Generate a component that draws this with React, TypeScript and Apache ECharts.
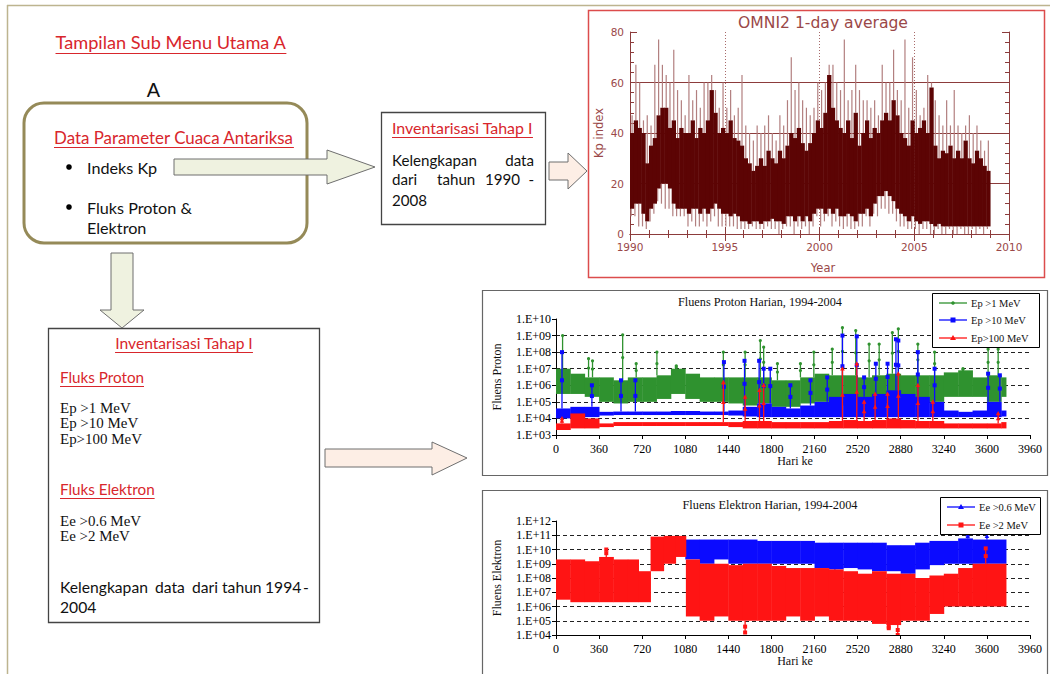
import React, { useEffect, useRef } from "react";
import * as echarts from "echarts";

// ---------------- Kp index (OMNI2 1-day average), 0.2-year bins from 1990.0 ----------------
const kpStartYear = 1990;
const kpStep = 0.2;
const kpMax = [
  47, 67, 60, 45, 47, 43, 67, 77, 67, 63, 60, 73, 57, 53, 47, 63, 53, 57, 50, 60,
  60, 63, 57, 50, 60, 50, 57, 47, 50, 63, 43, 40, 37, 43, 40, 43, 47, 40, 37, 47,
  43, 53, 70, 57, 60, 53, 50, 47, 50, 60, 57, 60, 67, 67, 60, 57, 77, 53, 57, 67,
  57, 53, 53, 50, 53, 47, 67, 60, 60, 73, 57, 53, 77, 50, 70, 57, 47, 50, 63, 60,
  53, 47, 43, 53, 43, 57, 43, 40, 43, 47, 40, 43, 37, 33, 37,
];
const kpHigh = [
  40, 45, 42, 40, 28, 35, 38, 47, 50, 50, 42, 45, 38, 42, 40, 40, 45, 38, 42, 40,
  45, 57, 48, 40, 42, 40, 45, 38, 37, 35, 30, 28, 25, 27, 30, 27, 33, 30, 28, 33,
  30, 35, 40, 38, 42, 36, 33, 36, 40, 45, 42, 48, 63, 50, 45, 42, 40, 45, 38, 48,
  35, 40, 45, 38, 42, 40, 45, 48, 45, 53, 47, 40, 38, 35, 45, 40, 42, 45, 40, 58,
  35, 30, 33, 32, 35, 30, 33, 30, 37, 30, 28, 33, 30, 27, 25,
];
const kpLow = [
  10, 12, 12, 8, 5, 10, 12, 18, 20, 20, 18, 12, 10, 10, 10, 8, 10, 10, 8, 10,
  8, 10, 12, 10, 8, 8, 7, 8, 7, 5, 5, 4, 5, 5, 4, 5, 5, 6, 5, 5,
  4, 7, 7, 5, 7, 5, 7, 5, 8, 10, 10, 8, 10, 8, 10, 7, 7, 8, 7, 5,
  8, 8, 10, 7, 12, 15, 15, 17, 15, 13, 10, 8, 7, 5, 7, 5, 4, 5, 5, 4,
  3, 4, 3, 3, 3, 3, 3, 3, 3, 3, 3, 3, 3, 3, 3,
];
const kpMin = [
  7, 7, 3, 3, 2, 5, 8, 13, 12, 10, 10, 7, 7, 7, 7, 3, 5, 3, 3, 5,
  3, 5, 7, 3, 3, 3, 3, 3, 2, 2, 2, 2, 3, 2, 2, 2, 3, 2, 2, 0,
  2, 3, 3, 0, 3, 2, 3, 0, 3, 7, 3, 5, 7, 3, 5, 3, 2, 3, 2, 2,
  3, 3, 7, 3, 8, 7, 10, 10, 8, 8, 5, 3, 3, 2, 2, 2, 0, 2, 2, 0,
  0, 2, 0, 0, 2, 0, 0, 2, 0, 0, 2, 0, 2, 0, 2,
];

// ---------------- Fluens Proton Harian (days since 1994), 120-day bins ----------------
const pBinStart = [
  0, 120, 240, 360, 480, 600, 720, 840, 960, 1080, 1200, 1320, 1440, 1560, 1680, 1800,
  1920, 2040, 2160, 2280, 2400, 2520, 2640, 2760, 2880, 3000, 3120, 3240, 3360, 3480, 3600, 3720,
];
const pEndDay = 3760;
const pGreenLow = [
  3e5, 3e5, 2e5, 1e5, 8e4, 1e5, 1e5, 1.5e5, 3e5, 1.5e5, 1e5, 1e5, 8e4, 6e4, 8e4, 5e4,
  5e4, 8e4, 1e5, 8e4, 6e4, 6e4, 8e4, 1e5, 8e4, 1e5, 1e5, 2e5, 2e5, 2e5, 1e5, 2e5,
];
const pGreenHigh = [
  1e7, 5e6, 3e6, 3e6, 2e6, 3e6, 3e6, 4e6, 1e7, 5e6, 3e6, 3e6, 3e6, 3e6, 3e6, 2e6,
  2e6, 3e6, 5e6, 4e6, 4e6, 3e6, 4e6, 5e6, 4e6, 4e6, 4e6, 6e6, 8e6, 3e6, 4e6, 3e6,
];
const pBlueLow = [
  1e4, 1e4, 1.2e4, 1.5e4, 1.6e4, 1.6e4, 1.6e4, 1.6e4, 1.6e4, 1.6e4, 1.6e4, 1.6e4, 1.5e4, 1.3e4, 1.2e4, 1.2e4,
  1.2e4, 1.2e4, 1.2e4, 1.2e4, 1.2e4, 1.2e4, 1.2e4, 1.2e4, 1.2e4, 1.2e4, 1.2e4, 1.2e4, 1.2e4, 1.2e4, 1.2e4, 1.3e4,
];
const pBlueHigh = [
  4e4, 5e4, 5e4, 2.5e4, 2.6e4, 2.6e4, 2.6e4, 2.6e4, 2.8e4, 2.8e4, 2.6e4, 2.6e4, 3e4, 5e4, 8e4, 5e4,
  4e4, 6e4, 1e5, 2e5, 3e5, 2e5, 3e5, 5e5, 3e5, 2e5, 1e5, 3e4, 2.5e4, 3e4, 1e5, 3e4,
];
const pRedLow = [
  2e3, 2.5e3, 2.5e3, 3e3, 3.5e3, 3.5e3, 3.5e3, 3.5e3, 3.5e3, 3.5e3, 3.5e3, 3.5e3, 3e3, 2.5e3, 2.5e3, 2.5e3,
  2.5e3, 2.5e3, 2.5e3, 2.5e3, 2.5e3, 2.5e3, 2.5e3, 2.5e3, 2.5e3, 2.5e3, 2.5e3, 2.5e3, 2.5e3, 2.5e3, 2.5e3, 2.5e3,
];
const pRedHigh = [
  5e3, 2e4, 1e4, 5e3, 6e3, 6e3, 6e3, 6e3, 6e3, 6e3, 6e3, 6e3, 6e3, 7e3, 7e3, 6e3,
  6e3, 6e3, 6e3, 7e3, 8e3, 7e3, 8e3, 1e4, 8e3, 7e3, 7e3, 5e3, 5e3, 5e3, 5e3, 6e3,
];
const pGreenSpikeDay = [55, 272, 305, 557, 670, 843, 1005, 1398, 1580, 1707, 1735, 1850, 2042, 2154, 2308, 2393, 2504, 2616, 2700, 2810, 2860, 3023, 3163, 3400, 3610, 3694];
const pGreenSpikePeak = [1e9, 4e7, 3e7, 1.1e9, 2e7, 1e8, 1.5e7, 1e8, 1e8, 5e8, 2e8, 2e7, 2e7, 1e8, 1.5e8, 3e9, 2e9, 3e8, 3e8, 1.5e9, 2.5e9, 3e8, 1e8, 1e7, 1.5e8, 1.5e8];
const pBlueSpikeDay = [50, 300, 543, 663, 1403, 1575, 1697, 1735, 1790, 1958, 2126, 2266, 2393, 2513, 2574, 2672, 2770, 2840, 2860, 3023, 3163, 3610, 3708];
const pBlueSpikePeak = [1e8, 1e6, 2e6, 2e6, 2.5e7, 3e7, 3e7, 1e7, 1e7, 1e6, 2e6, 3e6, 1e9, 9e8, 3e6, 2e7, 2e7, 6e8, 5e8, 1e8, 1e7, 5e6, 4e6];
const pRedSpikeDay = [50, 1398, 1580, 1700, 1735, 2393, 2513, 2574, 2666, 2770, 2860, 3024, 3148, 3694];
const pRedSpikePeak = [1e4, 1.5e6, 2e5, 5e5, 1e6, 1e7, 2e7, 1e5, 3e5, 3e5, 5e6, 1e6, 1e5, 2e4];

// ---------------- Fluens Elektron Harian ----------------
const eEndDay = 3760;
const eRedStart = [
  0, 120, 240, 360, 480, 600, 690, 790, 900, 1000, 1085, 1200, 1320, 1440, 1560, 1680,
  1800, 1920, 2040, 2160, 2280, 2400, 2520, 2640, 2760, 2880, 3000, 3120, 3240, 3360, 3480, 3600,
];
const eRedLow = [
  3e6, 2e6, 2e6, 2e6, 2e6, 2e6, 2e6, 3e8, 1e9, 3e9, 2e5, 1e5, 2e5, 1e5, 1e5, 1e5,
  1e5, 2e5, 1e5, 2e5, 1e5, 1e5, 1e5, 6e4, 5e4, 1e5, 1e5, 3e5, 1e6, 1e6, 1e6, 1e6,
];
const eRedHigh = [
  2e9, 2e9, 1.5e9, 3e9, 2e9, 2e9, 3e8, 8e10, 9e10, 9e10, 2e9, 1e9, 1e9, 8e8, 1e9, 1e9,
  7e8, 5e8, 5e8, 5e8, 4e8, 3e8, 2e8, 3e8, 2e8, 2e8, 1e8, 1.5e8, 2e8, 5e8, 1e9, 1e9,
];
const eBlueStart = [1080, 1200, 1320, 1440, 1560, 1680, 1800, 1920, 2040, 2160, 2280, 2400, 2520, 2640, 2760, 2880, 3000, 3120, 3240, 3360, 3480, 3600];
const eBlueLow = [2e9, 1e9, 2e9, 1e9, 1e9, 1e9, 1e9, 1e9, 1e9, 5e8, 4e8, 5e8, 4e8, 3e8, 3e8, 2e8, 4e8, 8e8, 1e9, 1e9, 1e9, 1e9];
const eBlueHigh = [5e10, 5e10, 5e10, 5e10, 5e10, 4e10, 4e10, 4e10, 4e10, 3e10, 3e10, 3e10, 3e10, 3e10, 2e10, 2e10, 3e10, 4e10, 4e10, 6e10, 5e10, 5e10];
const eRedSpikeDay = [420, 1580, 2780, 2855, 3590];
const eRedSpikePeak = [1e10, 1.5e4, 3e4, 1e4, 1.2e10];
const eBlueSpikeDay = [2330, 2960, 3440, 3600];
const eBlueSpikePeak = [2e8, 7e7, 1.1e11, 1.5e11];

const protonLegend = ["Ep >1 MeV", "Ep >10 MeV", "Ep>100 MeV"];
const electronLegend = ["Ee >0.6 MeV", "Ee >2 MeV"];

// ---------------- styles ----------------
const KP_AXIS = "#8c3b3b";
const KP_LABEL = "#9a4848";
const KP_DARK = "#5c0404";
const KP_LIGHT = "#b27f7f";
const GREEN = "#2f922f";
const BLUE = "#0b0bff";
const RED = "#ff1414";
const TXT_RED = "#d8262c";
const FF = "Lato";
const SERIF = "Liberation Serif";
const SANS = "Liberation Sans";
const WIDE = "DejaVu Sans";

let measureCtx: CanvasRenderingContext2D | null = null;
function measure(text: string, font: string) {
  if (!measureCtx) measureCtx = document.createElement("canvas").getContext("2d");
  measureCtx!.font = font;
  return measureCtx!.measureText(text).width;
}
function fit(text: string, family: string, target: number, weight = "normal") {
  return (20 * target) / measure(text, `${weight} 20px ${family}`);
}
function label(x: number, y: number, text: string, size: number, family: string, fill: string, opts: any = {}) {
  return {
    type: "text",
    x,
    y,
    z: opts.z ?? 60,
    rotation: opts.rot ?? 0,
    style: {
      text,
      fill,
      font: `${opts.weight ?? "normal"} ${size.toFixed(2)}px ${family}`,
      textAlign: opts.align ?? "left",
      textVerticalAlign: "middle",
    },
  };
}
function underlined(x: number, y: number, text: string, size: number, family: string, fill: string, align = "left", weight = "normal") {
  const w = measure(text, `${weight} ${size.toFixed(2)}px ${family}`);
  const x0 = align === "center" ? x - w / 2 : x;
  const uy = Math.round(y + size * 0.6) + 0.5;
  return [
    label(x, y, text, size, family, fill, { align, weight }),
    { type: "line", z: 60, shape: { x1: x0, y1: uy, x2: x0 + w, y2: uy }, style: { stroke: fill, lineWidth: 1 } },
  ];
}
function arrow(points: number[][], fill: string) {
  return { type: "polygon", z: 40, shape: { points }, style: { fill, stroke: "#6f6f6f", lineWidth: 1 } };
}

function bandData(starts: number[], end: number, low: number[], high: number[]) {
  return starts.map((s, i) => [s, i + 1 < starts.length ? starts[i + 1] : end, low[i], high[i]]);
}
function spikeData(days: number[], peaks: number[], starts: number[], end: number, low: number[], high: number[]) {
  return days.map((d, i) => {
    let k = starts.findIndex((s, j) => d >= s && d < (j + 1 < starts.length ? starts[j + 1] : end));
    if (k < 0) k = starts.length - 1;
    const p = peaks[i];
    const base = p >= high[k] ? high[k] : p <= low[k] ? low[k] : Math.sqrt(low[k] * high[k]);
    return [d, base, p];
  });
}

function bandRender(color: string) {
  return (params: any, api: any) => {
    const a = api.coord([api.value(0), api.value(3)]);
    const b = api.coord([api.value(1), api.value(2)]);
    return {
      type: "rect",
      shape: { x: a[0], y: a[1], width: b[0] - a[0] + 0.4, height: b[1] - a[1] },
      style: { fill: color },
    };
  };
}
function spikeRender(color: string, marker: string) {
  return (params: any, api: any) => {
    const a = api.coord([api.value(0), api.value(1)]);
    const c = api.coord([api.value(0), api.value(2)]);
    const mk = (x: number, y: number) => {
      if (marker === "square") return { type: "rect", shape: { x: x - 2, y: y - 2, width: 4, height: 4 }, style: { fill: color } };
      if (marker === "tri")
        return { type: "polygon", shape: { points: [[x, y - 2.5], [x + 2.3, y + 1.8], [x - 2.3, y + 1.8]] }, style: { fill: color } };
      return { type: "circle", shape: { cx: x, cy: y, r: 1.6 }, style: { fill: color } };
    };
    return {
      type: "group",
      children: [
        { type: "line", shape: { x1: a[0], y1: a[1], x2: c[0], y2: c[1] }, style: { stroke: color, lineWidth: 1.3 } },
        mk(c[0], c[1]),
        mk(c[0], (a[1] + c[1]) / 2),
      ],
    };
  };
}
function kpRender(params: any, api: any) {
  const yr = api.value(0);
  const xa = api.coord([yr, 0])[0];
  const xb = api.coord([yr + kpStep, 0])[0];
  const w = xb - xa;
  const yMin = api.coord([yr, api.value(1)])[1];
  const yLow = api.coord([yr, api.value(2)])[1];
  const yHigh = api.coord([yr, api.value(3)])[1];
  const yMax = api.coord([yr, api.value(4)])[1];
  return {
    type: "group",
    children: [
      { type: "line", shape: { x1: xa + w * 0.55, y1: yHigh, x2: xa + w * 0.55, y2: yMax }, style: { stroke: KP_LIGHT, lineWidth: 1.2 } },
      { type: "line", shape: { x1: xa + w * 0.3, y1: yLow, x2: xa + w * 0.3, y2: yMin }, style: { stroke: KP_LIGHT, lineWidth: 1.2 } },
      { type: "rect", shape: { x: xa, y: yHigh, width: w + 0.5, height: yLow - yHigh }, style: { fill: KP_DARK } },
    ],
  };
}

const logLabel = (v: number) => {
  const e = Math.round(Math.log10(v));
  return "1.E+" + (e < 10 ? "0" : "") + e;
};

function buildOption() {
  const kpData = kpMax.map((m, i) => [kpStartYear + i * kpStep, kpMin[i], kpLow[i], kpHigh[i], m]);

  const kpAxisCommon = {
    axisLine: { show: true, lineStyle: { color: KP_AXIS, width: 1 } },
    axisTick: { show: true, inside: true, length: 7, lineStyle: { color: KP_AXIS } },
    minorTick: { show: true, splitNumber: 5, length: 4, lineStyle: { color: KP_AXIS } },
  };
  const pAxisX = (gridIndex: number) => ({
    gridIndex,
    type: "value",
    min: 0,
    max: 3960,
    interval: 360,
    axisLine: { show: true, lineStyle: { color: "#000", width: 1 } },
    axisTick: { show: true, length: 4, lineStyle: { color: "#000" } },
    axisLabel: { color: "#000", fontFamily: SERIF, fontSize: 12, margin: 8, formatter: (v: number) => String(v) },
    splitLine: { show: false },
  });
  const pAxisY = (gridIndex: number, min: number, max: number, split: number) => ({
    gridIndex,
    type: "log",
    logBase: 10,
    min,
    max,
    splitNumber: split,
    axisLine: { show: true, lineStyle: { color: "#000", width: 1 } },
    axisTick: { show: true, length: 4, lineStyle: { color: "#000" } },
    axisLabel: { color: "#000", fontFamily: SERIF, fontSize: 12, margin: 5, formatter: logLabel },
    splitLine: { show: true, showMinLine: false, showMaxLine: false, lineStyle: { color: "#222", type: [4, 3], width: 1 } },
  });

  const sTitle = fit("Tampilan Sub Menu Utama A", FF, 231);
  const sData = fit("Data Parameter Cuaca Antariksa", FF, 240);
  const sBullet = fit("Fluks Proton &", FF, 105);
  const sInv1 = fit("Inventarisasi Tahap I", FF, 141);
  const sBody1 = fit("Kelengkapan", FF, 85);
  const sInv2 = fit("Inventarisasi Tahap I", FF, 138);
  const sFluks = fit("Fluks Proton", FF, 84);
  const sEp = fit("Ep>100 MeV", SERIF, 82);
  const sBody2 = fit("Kelengkapan", FF, 88);
  const sKpTitle = fit("OMNI2 1-day average", WIDE, 170);
  const sPTitle = fit("Fluens Proton Harian, 1994-2004", SERIF, 164);
  const sETitle = fit("Fluens Elektron Harian, 1994-2004", SERIF, 175);

  const graphics: any[] = [
    // slide frame
    { type: "line", z: 1, shape: { x1: 7, y1: 5.5, x2: 1050, y2: 5.5 }, style: { stroke: "#bdb48f", lineWidth: 1.5 } },
    { type: "line", z: 1, shape: { x1: 7.5, y1: 5, x2: 7.5, y2: 674 }, style: { stroke: "#bdb48f", lineWidth: 1.5 } },
    // page title
    ...underlined(55.5, 42, "Tampilan Sub Menu Utama A", sTitle, FF, TXT_RED),
    label(153.5, 90, "A", 20, SANS, "#111", { align: "center" }),
    // rounded box
    { type: "rect", z: 30, shape: { x: 24, y: 103, width: 283, height: 140, r: 20 }, style: { fill: "#fff", stroke: "#958a58", lineWidth: 3 } },
    ...underlined(54, 137, "Data Parameter Cuaca Antariksa", sData, FF, TXT_RED),
    { type: "circle", z: 60, shape: { cx: 69, cy: 167, r: 2.8 }, style: { fill: "#000" } },
    { type: "circle", z: 60, shape: { cx: 69, cy: 207, r: 2.8 }, style: { fill: "#000" } },
    label(87, 167, "Indeks Kp", sBullet, FF, "#111"),
    label(87, 207, "Fluks Proton &", sBullet, FF, "#111"),
    label(87, 227, "Elektron", sBullet, FF, "#111"),
    // arrows
    arrow([[174, 159], [327, 159], [327, 150], [375, 167], [327, 184], [327, 175], [174, 175]], "#eff2e0"),
    arrow([[549, 162], [568, 162], [568, 153], [587, 171], [568, 189], [568, 180], [549, 180]], "#fdeee5"),
    arrow([[111, 253], [133, 253], [133, 310], [144, 310], [122, 328], [100, 310], [111, 310]], "#eff2e0"),
    arrow([[325, 449], [432, 449], [432, 442], [467, 458], [432, 475], [432, 467], [325, 467]], "#fdeee5"),
    // box 1
    { type: "rect", z: 30, shape: { x: 381.5, y: 112.5, width: 164, height: 112 }, style: { fill: "#fff", stroke: "#444", lineWidth: 1.3 } },
    ...underlined(392, 127, "Inventarisasi Tahap I", sInv1, FF, TXT_RED),
    label(392, 160, "Kelengkapan", sBody1, FF, "#111"),
    label(534, 160, "data", sBody1, FF, "#111", { align: "right" }),
    label(392, 179, "dari", sBody1, FF, "#111"),
    label(437, 179, "tahun", sBody1, FF, "#111"),
    label(485, 179, "1990", sBody1, FF, "#111"),
    label(534, 179, "-", sBody1, FF, "#111", { align: "right" }),
    label(392, 200, "2008", sBody1, FF, "#111"),
    // box 2
    { type: "rect", z: 30, shape: { x: 48.5, y: 328.5, width: 271, height: 294 }, style: { fill: "#fff", stroke: "#444", lineWidth: 1.3 } },
    ...underlined(184, 343, "Inventarisasi Tahap I", sInv2, FF, TXT_RED, "center"),
    ...underlined(60, 377, "Fluks Proton", sFluks, FF, TXT_RED),
    label(60, 408, "Ep >1 MeV", sEp, SERIF, "#111"),
    label(60, 423, "Ep >10 MeV", sEp, SERIF, "#111"),
    label(60, 439, "Ep>100 MeV", sEp, SERIF, "#111"),
    ...underlined(60, 489, "Fluks Elektron", sFluks, FF, TXT_RED),
    label(60, 521, "Ee >0.6 MeV", sEp, SERIF, "#111"),
    label(60, 536, "Ee >2 MeV", sEp, SERIF, "#111"),
    label(60, 587, "Kelengkapan", sBody2, FF, "#111"),
    label(155, 587, "data", sBody2, FF, "#111"),
    label(192, 587, "dari", sBody2, FF, "#111"),
    label(222, 587, "tahun", sBody2, FF, "#111"),
    label(265, 587, "1994", sBody2, FF, "#111"),
    label(303, 587, "-", sBody2, FF, "#111"),
    label(60, 607, "2004", sBody2, FF, "#111"),
    // Kp panel
    { type: "rect", z: 5, shape: { x: 588.5, y: 10.5, width: 456, height: 267 }, style: { fill: "none", stroke: "#dc4c4c", lineWidth: 1.5 } },
    label(823, 23, "OMNI2 1-day average", sKpTitle, WIDE, KP_LABEL, { align: "center" }),
    label(823, 268, "Year", 11.5, WIDE, KP_LABEL, { align: "center" }),
    label(599, 133, "Kp index", 11.5, WIDE, KP_LABEL, { align: "center", rot: Math.PI / 2 }),
    // proton panel
    { type: "rect", z: 5, shape: { x: 482.5, y: 290.5, width: 565, height: 185 }, style: { fill: "none", stroke: "#666", lineWidth: 1.2 } },
    label(760, 302, "Fluens Proton Harian, 1994-2004", sPTitle, SERIF, "#111", { align: "center" }),
    label(795, 461, "Hari ke", 12, SERIF, "#111", { align: "center" }),
    label(497, 377, "Fluens Proton", 12, SERIF, "#111", { align: "center", rot: Math.PI / 2 }),
    { type: "rect", z: 100, shape: { x: 932.5, y: 293.5, width: 107, height: 54 }, style: { fill: "#fff", stroke: "#000", lineWidth: 1 } },
    // electron panel
    { type: "rect", z: 5, shape: { x: 482.5, y: 490.5, width: 565, height: 190 }, style: { fill: "none", stroke: "#666", lineWidth: 1.2 } },
    label(770, 505, "Fluens Elektron Harian, 1994-2004", sETitle, SERIF, "#111", { align: "center" }),
    label(795, 661, "Hari ke", 12, SERIF, "#111", { align: "center" }),
    label(497, 578, "Fluens Elektron", 12, SERIF, "#111", { align: "center", rot: Math.PI / 2 }),
    { type: "rect", z: 100, shape: { x: 940.5, y: 497.5, width: 100, height: 37 }, style: { fill: "#fff", stroke: "#000", lineWidth: 1 } },
  ];

  const legendItem = (x0: number, y: number, color: string, marker: string, text: string) => {
    const mx = x0 + 14;
    let m: any;
    if (marker === "square") m = { type: "rect", z: 101, shape: { x: mx - 2.5, y: y - 2.5, width: 5, height: 5 }, style: { fill: color } };
    else if (marker === "tri") m = { type: "polygon", z: 101, shape: { points: [[mx, y - 3], [mx + 3, y + 2], [mx - 3, y + 2]] }, style: { fill: color } };
    else m = { type: "circle", z: 101, shape: { cx: mx, cy: y, r: 1.8 }, style: { fill: color } };
    return [
      { type: "line", z: 101, shape: { x1: x0, y1: y, x2: x0 + 28, y2: y }, style: { stroke: color, lineWidth: 1.3 } },
      m,
      label(x0 + 32, y, text, 10.5, SERIF, "#111", { z: 101 }),
    ];
  };
  graphics.push(
    ...legendItem(939, 303, GREEN, "circle", protonLegend[0]),
    ...legendItem(939, 320, BLUE, "square", protonLegend[1]),
    ...legendItem(939, 338, RED, "tri", protonLegend[2]),
    ...legendItem(947, 507, BLUE, "tri", electronLegend[0]),
    ...legendItem(947, 525, RED, "square", electronLegend[1])
  );

  const custom = (name: string, xi: number, render: any, data: any[], encode: any) => ({
    type: "custom",
    name,
    xAxisIndex: xi,
    yAxisIndex: xi,
    renderItem: render,
    data,
    encode,
    clip: true,
    silent: true,
  });
  const bandEnc = { x: [0, 1], y: [2, 3] };
  const spikeEnc = { x: 0, y: [1, 2] };

  return {
    animation: false,
    backgroundColor: "#ffffff",
    grid: [
      { left: 630, top: 32, width: 379, height: 202 },
      { left: 556, top: 319, width: 474, height: 116 },
      { left: 556, top: 521, width: 474, height: 114 },
    ],
    xAxis: [
      {
        gridIndex: 0,
        type: "value",
        min: 1990,
        max: 2010,
        interval: 5,
        position: "bottom",
        ...kpAxisCommon,
        axisLabel: { color: KP_LABEL, fontFamily: WIDE, fontSize: 10.5, margin: 7, formatter: (v: number) => String(v) },
        splitLine: { show: true, showMinLine: false, showMaxLine: false, lineStyle: { color: "#a86a6a", type: [1, 2], width: 1 } },
      },
      { gridIndex: 0, type: "value", min: 1990, max: 2010, interval: 5, position: "top", ...kpAxisCommon, axisLabel: { show: false }, splitLine: { show: false } },
      pAxisX(1),
      pAxisX(2),
    ],
    yAxis: [
      {
        gridIndex: 0,
        type: "value",
        min: 0,
        max: 80,
        interval: 20,
        position: "left",
        ...kpAxisCommon,
        axisLabel: { color: KP_LABEL, fontFamily: WIDE, fontSize: 10.5, margin: 6 },
        splitLine: { show: true, showMinLine: false, showMaxLine: false, lineStyle: { color: KP_AXIS, width: 1 } },
      },
      { gridIndex: 0, type: "value", min: 0, max: 80, interval: 20, position: "right", ...kpAxisCommon, axisLabel: { show: false }, splitLine: { show: false } },
      pAxisY(1, 1e3, 1e10, 7),
      pAxisY(2, 1e4, 1e12, 8),
    ],
    series: [
      { ...custom("Kp index", 0, kpRender, kpData, { x: 0, y: [1, 4] }), yAxisIndex: 0 },
      custom(protonLegend[0], 2, bandRender(GREEN), bandData(pBinStart, pEndDay, pGreenLow, pGreenHigh), bandEnc),
      custom(protonLegend[0] + " spikes", 2, spikeRender(GREEN, "circle"), spikeData(pGreenSpikeDay, pGreenSpikePeak, pBinStart, pEndDay, pGreenLow, pGreenHigh), spikeEnc),
      custom(protonLegend[1], 2, bandRender(BLUE), bandData(pBinStart, pEndDay, pBlueLow, pBlueHigh), bandEnc),
      custom(protonLegend[1] + " spikes", 2, spikeRender(BLUE, "square"), spikeData(pBlueSpikeDay, pBlueSpikePeak, pBinStart, pEndDay, pBlueLow, pBlueHigh), spikeEnc),
      custom(protonLegend[2], 2, bandRender(RED), bandData(pBinStart, pEndDay, pRedLow, pRedHigh), bandEnc),
      custom(protonLegend[2] + " spikes", 2, spikeRender(RED, "tri"), spikeData(pRedSpikeDay, pRedSpikePeak, pBinStart, pEndDay, pRedLow, pRedHigh), spikeEnc),
      custom(electronLegend[0], 3, bandRender(BLUE), bandData(eBlueStart, eEndDay, eBlueLow, eBlueHigh), bandEnc),
      custom(electronLegend[0] + " spikes", 3, spikeRender(BLUE, "tri"), spikeData(eBlueSpikeDay, eBlueSpikePeak, eBlueStart, eEndDay, eBlueLow, eBlueHigh), spikeEnc),
      custom(electronLegend[1], 3, bandRender(RED), bandData(eRedStart, eEndDay, eRedLow, eRedHigh), bandEnc),
      custom(electronLegend[1] + " spikes", 3, spikeRender(RED, "square"), spikeData(eRedSpikeDay, eRedSpikePeak, eRedStart, eEndDay, eRedLow, eRedHigh), spikeEnc),
    ],
    graphic: { elements: graphics },
  };
}

export default function App() {
  const ref = useRef<HTMLDivElement>(null);
  useEffect(() => {
    if (!ref.current) return;
    const chart = echarts.init(ref.current, undefined, { renderer: "svg" });
    chart.setOption(buildOption() as any);
    return () => chart.dispose();
  }, []);
  return <div ref={ref} style={{ position: "absolute", left: 0, top: 0, width: 1050, height: 674, background: "#fff" }} />;
}
